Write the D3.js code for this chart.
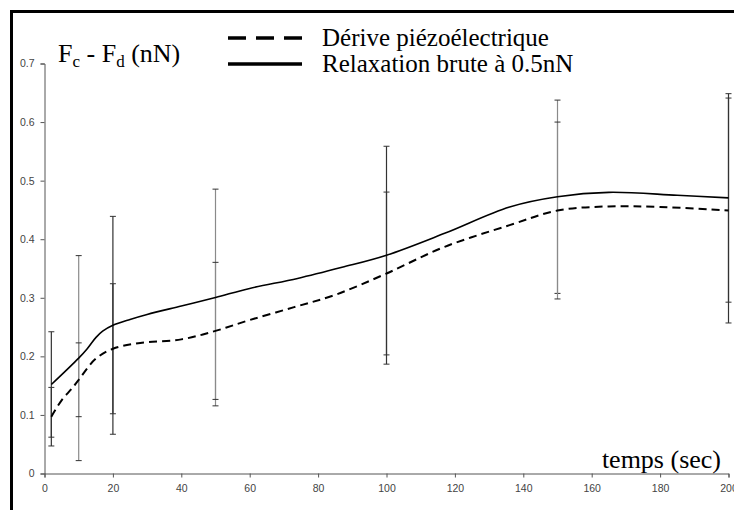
<!DOCTYPE html>
<html>
<head>
<meta charset="utf-8">
<script src="https://cdn.jsdelivr.net/npm/d3@7"></script>
<style>
  body { margin: 0; background: #fff; overflow: hidden; }
  svg { display: block; }
</style>
</head>
<body>
<script>
// mesures aux temps des barres d'erreur
const times = [2, 10, 20, 50, 100, 150, 200];
const relaxMean = [0.152, 0.197, 0.253, 0.3005, 0.3727, 0.4725, 0.4705];
const relaxErr = [0.090, 0.175, 0.186, 0.185, 0.186, 0.165, 0.178];
const driftMean = [0.097, 0.160, 0.213, 0.2435, 0.3415, 0.449, 0.449];
const driftErr = [0.050, 0.063, 0.111, 0.117, 0.139, 0.151, 0.192];

// courbes lissées
const relaxCurveT = [2, 10, 12.5, 15, 17, 20, 25, 30, 40, 50, 60, 74, 87, 100, 117, 136, 150, 165, 185, 200];
const relaxCurveV = [0.152, 0.197, 0.213, 0.232, 0.243, 0.253, 0.263, 0.2715, 0.286, 0.3005, 0.316, 0.333, 0.352, 0.3727, 0.410, 0.455, 0.4725, 0.480, 0.475, 0.4705];
const driftCurveT = [2, 5, 8, 10, 15, 20, 28, 40, 50, 60, 73, 85, 100, 117, 136, 150, 165, 180, 200];
const driftCurveV = [0.097, 0.125, 0.145, 0.160, 0.196, 0.213, 0.223, 0.229, 0.2435, 0.262, 0.284, 0.305, 0.3415, 0.387, 0.424, 0.449, 0.456, 0.455, 0.449];

const xTicks = [0, 20, 40, 60, 80, 100, 120, 140, 160, 180, 200];
const yTicks = [0, 0.1, 0.2, 0.3, 0.4, 0.5, 0.6, 0.7];

const legendLabels = ["Dérive piézoélectrique", "Relaxation brute à 0.5nN"];

const width = 734;
const height = 510;
const greyBars = [10, 50, 150];

const svg = d3.select("body")
              .append("svg")
              .attr("width", width)
              .attr("height", height);

// cadre noir (coupé à droite et en bas)
svg.append("rect")
   .attr("x", 11.5)
   .attr("y", 11.5)
   .attr("width", 800)
   .attr("height", 600)
   .attr("fill", "none")
   .attr("stroke", "#000")
   .attr("stroke-width", 3);

const x = d3.scaleLinear().domain([0, 200]).range([44.5, 728.5]);
const y = d3.scaleLinear().domain([0, 0.7]).range([473.5, 63.5]);

const xAxis = svg.append("g")
                 .attr("transform", "translate(0," + y(0) + ")")
                 .call(d3.axisBottom(x).tickValues(xTicks).tickSize(4).tickPadding(5).tickFormat(d3.format("d")));

const yAxis = svg.append("g")
                 .attr("transform", "translate(" + x(0) + ",0)")
                 .call(d3.axisLeft(y).tickValues(yTicks).tickSize(4).tickPadding(6).tickFormat(d => d === 0 ? "0" : d.toFixed(1)));

[xAxis, yAxis].forEach(ax => {
  ax.select(".domain").attr("stroke", "#555");
  ax.selectAll(".tick line").attr("stroke", "#555");
  ax.selectAll(".tick text")
    .attr("fill", "#444")
    .style("font-family", "Arial, 'Liberation Sans', sans-serif")
    .style("font-size", "10.5px");
});
xAxis.selectAll(".tick text").attr("dy", "0.9em");

// barres d'erreur
function errorBars(means, errs) {
  const g = svg.append("g");
  times.forEach((t, i) => {
    const col = greyBars.includes(t) ? "#8a8a8a" : "#333";
    const lo = means[i] - errs[i];
    const hi = means[i] + errs[i];
    g.append("line")
     .attr("x1", x(t)).attr("x2", x(t))
     .attr("y1", y(lo)).attr("y2", y(hi))
     .attr("stroke", col).attr("stroke-width", 1.2);
    [lo, hi].forEach(v => {
      g.append("line")
       .attr("x1", x(t) - 3).attr("x2", x(t) + 3)
       .attr("y1", y(v)).attr("y2", y(v))
       .attr("stroke", "#333").attr("stroke-width", 1);
    });
  });
}
errorBars(relaxMean, relaxErr);
errorBars(driftMean, driftErr);

const line = d3.line()
               .x(d => x(d[0]))
               .y(d => y(d[1]))
               .curve(d3.curveCatmullRom.alpha(0.5));

svg.append("path")
   .datum(d3.zip(driftCurveT, driftCurveV))
   .attr("d", line)
   .attr("fill", "none")
   .attr("stroke", "#000")
   .attr("stroke-width", 2)
   .attr("stroke-dasharray", "8,5");

svg.append("path")
   .datum(d3.zip(relaxCurveT, relaxCurveV))
   .attr("d", line)
   .attr("fill", "none")
   .attr("stroke", "#000")
   .attr("stroke-width", 1.6);

const serif = "'Times New Roman', 'Liberation Serif', serif";

// titre de l'axe y
const yTitle = svg.append("text")
                  .attr("x", 58)
                  .attr("y", 62)
                  .style("font-family", serif)
                  .style("font-size", "26px")
                  .attr("fill", "#000");
yTitle.append("tspan").text("F");
yTitle.append("tspan").attr("dy", 5).style("font-size", "17px").text("c");
yTitle.append("tspan").attr("dy", -5).text(" - F");
yTitle.append("tspan").attr("dy", 5).style("font-size", "17px").text("d");
yTitle.append("tspan").attr("dy", -5).text(" (nN)");

svg.append("text")
   .attr("x", 721)
   .attr("y", 468)
   .attr("text-anchor", "end")
   .style("font-family", serif)
   .style("font-size", "26px")
   .attr("fill", "#000")
   .text("temps (sec)");

// légende
const legend = svg.append("g");
legendLabels.forEach((lab, i) => {
  const ly = 38 + i * 26;
  legend.append("line")
        .attr("x1", 228).attr("x2", 302)
        .attr("y1", ly).attr("y2", ly)
        .attr("stroke", "#000")
        .attr("stroke-width", 3.5)
        .attr("stroke-dasharray", i === 0 ? "18,10" : null);
  legend.append("text")
        .attr("x", 322)
        .attr("y", ly + 8)
        .style("font-family", serif)
        .style("font-size", "25px")
        .attr("fill", "#000")
        .text(lab);
});
</script>
</body>
</html>
